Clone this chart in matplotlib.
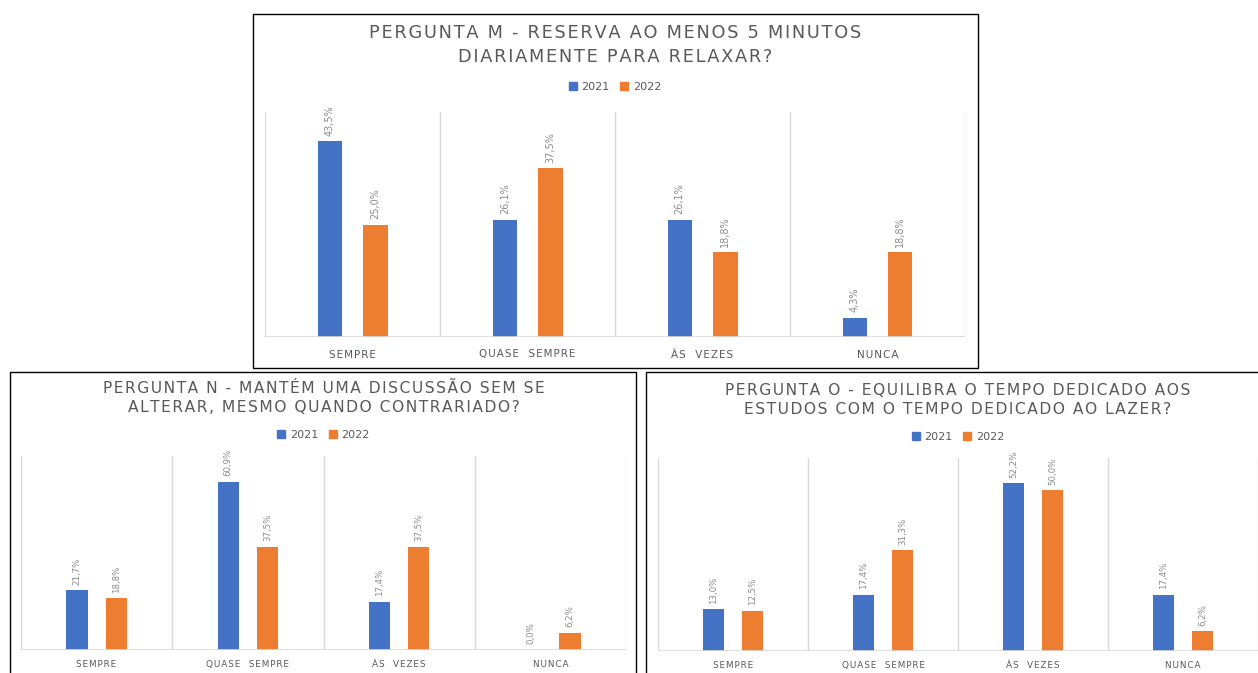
import matplotlib
matplotlib.use("Agg")
import matplotlib.pyplot as plt
from matplotlib.patches import Rectangle, Patch

# Survey answers (share of respondents, %)
categories = ["SEMPRE", "QUASE  SEMPRE", "ÀS  VEZES", "NUNCA"]
series_names = ["2021", "2022"]

m_2021 = [43.5, 26.1, 26.1, 4.3]
m_2022 = [25.0, 37.5, 18.8, 18.8]

n_2021 = [21.7, 60.9, 17.4, 0.0]
n_2022 = [18.8, 37.5, 37.5, 6.2]

o_2021 = [13.0, 17.4, 52.2, 17.4]
o_2022 = [12.5, 31.3, 50.0, 6.2]

title_m = "PERGUNTA M - RESERVA AO MENOS 5 MINUTOS\nDIARIAMENTE PARA RELAXAR?"
title_n = "PERGUNTA N - MANTÉM UMA DISCUSSÃO SEM SE\nALTERAR, MESMO QUANDO CONTRARIADO?"
title_o = "PERGUNTA O - EQUILIBRA O TEMPO DEDICADO AOS\nESTUDOS COM O TEMPO DEDICADO AO LAZER?"

BLUE = "#4472C4"
ORANGE = "#ED7D31"
GRID = "#D9D9D9"
TEXT = "#595959"
LABEL = "#8C8C8C"

W, H = 1258, 673
fig = plt.figure(figsize=(W / 100, H / 100), dpi=100)
fig.patch.set_facecolor("white")
plt.rcParams["font.family"] = ["DejaVu Sans"]

HAIR = "\u200a"


def tracked(s):
    """Open up letter spacing by putting a hair space between characters."""
    return "\n".join(HAIR.join(line) for line in s.split("\n"))


def fx(x):
    return x / W


def fy(y):
    return 1 - y / H


def frame(x0, y0, x1, y1):
    fig.patches.append(Rectangle((fx(x0), fy(y1)), fx(x1 - x0), fy(y0) - fy(y1),
                                 transform=fig.transFigure, fill=False,
                                 edgecolor="black", linewidth=1.0))


def panel(box, title, title_y, legend_y, v2021, v2022, ymax, tick_pad,
          title_size, tick_size, label_size):
    left, right, top, bottom = box
    ax = fig.add_axes([fx(left), fy(bottom), fx(right - left), fy(top) - fy(bottom)])
    x = list(range(len(categories)))
    off, bw = 0.13, 0.14
    b1 = ax.bar([i - off for i in x], v2021, width=bw, color=BLUE, zorder=3)
    b2 = ax.bar([i + off for i in x], v2022, width=bw, color=ORANGE, zorder=3)
    for bars, vals in ((b1, v2021), (b2, v2022)):
        for rect, v in zip(bars, vals):
            ax.annotate(f"{v:.1f}%".replace(".", ","),
                        (rect.get_x() + rect.get_width() / 2, v),
                        xytext=(0, 4), textcoords="offset points",
                        rotation=90, ha="center", va="bottom",
                        fontsize=label_size, color=LABEL, annotation_clip=False)
    ax.set_xlim(-0.5, len(categories) - 0.5)
    ax.set_ylim(0, ymax)
    for b in [i - 0.5 for i in range(len(categories) + 1)]:
        ax.axvline(b, color=GRID, linewidth=1.0, zorder=1)
    ax.axhline(0, color=GRID, linewidth=1.2, zorder=4)
    for s in ax.spines.values():
        s.set_visible(False)
    ax.set_yticks([])
    ax.set_xticks(x)
    ax.set_xticklabels([tracked(c) for c in categories], fontsize=tick_size, color=TEXT)
    ax.tick_params(axis="x", length=0, pad=tick_pad)
    cx = (left + right) / 2
    fig.text(fx(cx), fy(title_y), tracked(title), ha="center", va="center",
             fontsize=title_size, color=TEXT, linespacing=1.4)
    handles = [Patch(color=BLUE), Patch(color=ORANGE)]
    fig.legend(handles, series_names, loc="center", ncol=2,
               bbox_to_anchor=(fx(cx), fy(legend_y)), frameon=False,
               fontsize=8, labelcolor=TEXT, handlelength=0.7, handleheight=0.7,
               handletextpad=0.4, columnspacing=1.0)
    return ax


frame(253, 14, 978, 368)
frame(10, 372, 636, 690)
frame(646, 372, 1275, 690)

panel((265, 965, 112, 337), title_m, 45, 87, m_2021, m_2022, 50, 9,
      12.8, 7.5, 7)
panel((21, 626, 456, 650), title_n, 398, 435, n_2021, n_2022, 70.3, 7,
      11.2, 6.4, 6.2)
panel((658, 1258, 458, 651), title_o, 400, 437, o_2021, o_2022, 60, 7,
      11.2, 6.4, 6.2)

fig.savefig("out.png", dpi=100, facecolor="white")
